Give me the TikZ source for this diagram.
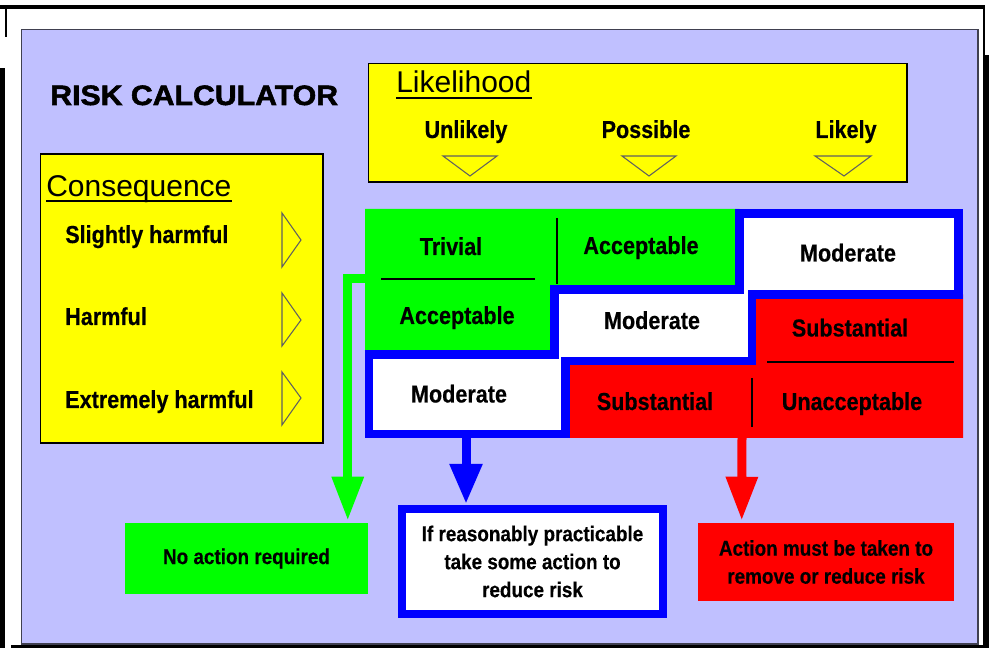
\documentclass[tikz,border=0pt]{standalone}
\usepackage{fontspec}
\setmainfont{Liberation Sans}
\newfontfamily\pixfont{Liberation Sans}[FakeStretch=0.88,FakeBold=0.4]
\newfontfamily\titlefont{Liberation Sans}[FakeStretch=1.08,FakeBold=2]
\usetikzlibrary{arrows.meta,calc}
\definecolor{lav}{HTML}{C0C0FF}
\definecolor{panelline}{HTML}{404050}
\definecolor{ggreen}{HTML}{00FF00}
\definecolor{rred}{HTML}{FF0000}
\definecolor{bblue}{HTML}{0000FF}
\definecolor{yyellow}{HTML}{FFFF00}
\definecolor{tricol}{HTML}{606060}
\tikzset{
  mtxt/.style={inner sep=0pt, font=\pixfont\bfseries\fontsize{18.4pt}{22pt}\selectfont},
  btxt/.style={inner sep=0pt, align=center, font=\pixfont\bfseries\fontsize{16.1pt}{21pt}\selectfont},
  hdtxt/.style={inner sep=0pt, font=\fontsize{22.5pt}{27pt}\selectfont},
  ttl/.style={inner sep=0pt, font=\titlefont\bfseries\fontsize{21pt}{25pt}\selectfont},
  tri/.style={draw=tricol, line width=0.8pt, line join=miter},
  ybox/.style={fill=yyellow, draw=black, line width=1.1pt},
  panel/.style={fill=lav, draw=panelline, line width=1.1pt},
  uline/.style={draw=black, line width=1.5pt},
  divline/.style={draw=black, line width=1.1pt},
  bluewall/.style={draw=bblue, line width=6.4pt, fill=white, line join=miter},
  garrow/.style={draw=ggreen, line width=6.75pt, line join=miter, -{Triangle[width=22.5pt,length=33pt]}},
  barrow/.style={draw=bblue, line width=6.75pt, -{Triangle[width=23pt,length=30pt]}},
  rarrow/.style={draw=rred, line width=6.75pt, -{Triangle[width=22.5pt,length=33pt]}},
}
\begin{document}
\begin{tikzpicture}[x=0.75pt,y=-0.75pt]
\useasboundingbox (0,0) rectangle (989,648);
\fill[white] (0,0) rectangle (989,648);
% outer frame
\draw[black, line width=3pt] (0,7) -- (985,7);
\draw[black, line width=1.6pt] (6,7) -- (6,37);
\fill[black] (0,68) rectangle (5,648);
\draw[black, line width=1.6pt] (984,7) -- (984,55);
\fill[black] (983,55) rectangle (989,648);
\fill[black] (11,645) rectangle (989,648);
% panel
\draw[panel] (21.5,29.5) rectangle (978,644);

% title
\node[ttl, anchor=base west] (title) at (50,105) {RISK CALCULATOR};

% likelihood box
\draw[ybox] (368.5,63.5) rectangle (907,182);
\node[hdtxt, anchor=base west] (lik) at (396,93) {Likelihood};
\draw[uline] ($(lik.base west)+(0,5)$) -- ($(lik.base east)+(0,5)$);
\node[mtxt, anchor=base] (unl) at (466,138) {Unlikely};
\node[mtxt, anchor=base] (pos) at (646,138) {Possible};
\node[mtxt, anchor=base] (lkl) at (846,138) {Likely};
\draw[tri] (443,156) -- (497,156) -- (470,176) -- cycle;
\draw[tri] (622,156) -- (676,156) -- (649,176) -- cycle;
\draw[tri] (815,156) -- (871,156) -- (844,176) -- cycle;

% consequence box
\draw[ybox] (40.5,154) rectangle (323,443);
\node[hdtxt, anchor=base west] (cons) at (46,196.5) {Consequence};
\draw[uline] ($(cons.base west)+(0,4.5)$) -- ($(cons.base east)+(0,4.5)$);
\node[mtxt, anchor=base west] (sh) at (65,243) {Slightly harmful};
\node[mtxt, anchor=base west] (hm) at (65,325) {Harmful};
\node[mtxt, anchor=base west] (eh) at (65,408) {Extremely harmful};
\draw[tri] (282,213) -- (282,267) -- (301,240) -- cycle;
\draw[tri] (282,293) -- (282,346) -- (301,320) -- cycle;
\draw[tri] (282,372) -- (282,425) -- (301,398) -- cycle;

% risk matrix
\fill[ggreen] (365,209) -- (739.5,209) -- (739.5,289.5) -- (554.5,289.5) -- (554.5,354.5) -- (365,354.5) -- cycle;
\fill[rred] (752,294.5) -- (963,294.5) -- (963,438) -- (565.5,438) -- (565.5,361) -- (752,361) -- cycle;
\draw[bluewall] (369,354.5) -- (554.5,354.5) -- (554.5,289.5) -- (739.5,289.5) -- (739.5,213.5) -- (958.5,213.5) -- (958.5,294.5) -- (752,294.5) -- (752,361) -- (565.5,361) -- (565.5,434) -- (369,434) -- cycle;
\draw[divline] (381,279) -- (535,279);
\draw[divline] (557,218) -- (557,284);
\draw[divline] (767,362) -- (954,362);
\draw[divline] (752,378) -- (752,427);

\node[mtxt, anchor=base] (c11) at (451,255) {Trivial};
\node[mtxt, anchor=base] (c12) at (641,254) {Acceptable};
\node[mtxt, anchor=base] (c13) at (848,261.5) {Moderate};
\node[mtxt, anchor=base] (c21) at (457,324) {Acceptable};
\node[mtxt, anchor=base] (c22) at (652,329) {Moderate};
\node[mtxt, anchor=base] (c23) at (850,336.5) {Substantial};
\node[mtxt, anchor=base] (c31) at (459,402.5) {Moderate};
\node[mtxt, anchor=base] (c32) at (655,410) {Substantial};
\node[mtxt, anchor=base] (c33) at (852,410) {Unacceptable};

% outcome boxes
\node[btxt, fill=ggreen, minimum width=182.25pt, minimum height=53.25pt] (noact) at (246.5,558.5) {No action required};
\node[btxt, fill=white, draw=bblue, line width=6pt, minimum width=195.75pt, minimum height=78.75pt] (reduce) at (532.5,561.5) {If reasonably practicable\\take some action to\\reduce risk};
\node[btxt, fill=rred, minimum width=192pt, minimum height=58.5pt] (must) at (826,562) {Action must be taken to\\remove or reduce risk};

% arrows
\coordinate (gstart) at (365,279);
\coordinate (bstart) at (466,436);
\coordinate (rstart) at (742,437);
\draw[garrow] (gstart) -| ($(noact.north east)+(-20.5,-2)$);
\draw[barrow] (bstart) -- ($(reduce.north west)+(68,-1)$);
\draw[rarrow] (rstart) -- ($(must.north west)+(44,-2)$);
\end{tikzpicture}
\end{document}
